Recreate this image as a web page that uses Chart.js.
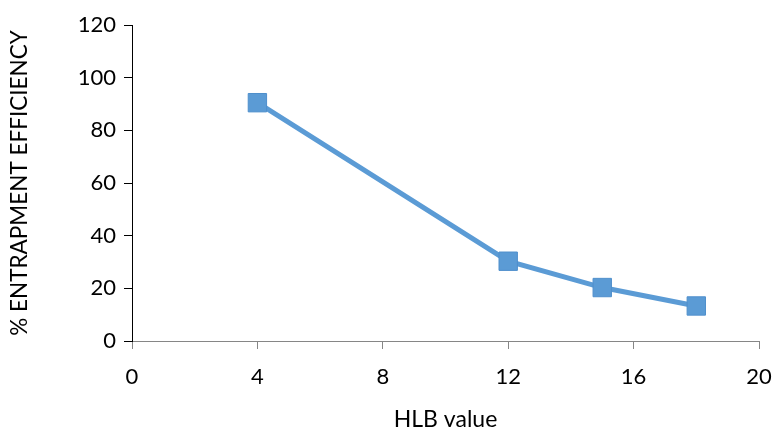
<!DOCTYPE html>
<html><head><meta charset="utf-8">
<script src="https://cdn.jsdelivr.net/npm/chart.js@4/dist/chart.umd.min.js"></script>
<style>html,body{margin:0;padding:0;background:#fff;}#wrap{width:773px;height:428px;}</style>
</head><body><div id="wrap"><canvas id="c" width="773" height="428"></canvas></div>
<script>
const hlbValues = [4, 12, 15, 18];
const entrapment = [90.5, 30.3, 20.3, 13.3];
const xTicks = [0, 4, 8, 12, 16, 20];
const yTicks = [0, 20, 40, 60, 80, 100, 120];

const ctx = document.getElementById('c').getContext('2d');
new Chart(ctx, {
  type: 'scatter',
  data: { datasets: [{
    data: hlbValues.map((x, i) => ({x: x, y: entrapment[i]})),
    showLine: true,
    borderColor: '#5B9BD5',
    borderWidth: 5,
    pointStyle: 'rect',
    pointRadius: 13,
    pointHoverRadius: 13,
    pointBackgroundColor: '#5B9BD5',
    pointBorderColor: '#4F8FCC',
    pointBorderWidth: 1
  }]},
  options: {
    responsive: false, animation: false,
    layout: { padding: { left: 0, right: 0, top: 25, bottom: 0 } },
    plugins: { legend: { display: false }, tooltip: { enabled: false } },
    scales: {
      x: {
        type: 'linear', min: 0, max: 20,
        afterBuildTicks: s => { s.ticks = xTicks.map(v => ({value: v})); },
        afterFit: s => { s.height = 87; s.paddingRight = 12; },
        grid: { drawOnChartArea: false, drawTicks: true, tickLength: 8, color: '#868686' },
        border: { color: '#868686', width: 1 },
        ticks: { color: '#000', font: { family: 'Lato', size: 22 }, padding: 15, maxRotation: 0 },
        title: { display: true, text: 'HLB value', color: '#000', font: { family: 'Lato', size: 23 }, padding: { top: 6, bottom: -5 } }
      },
      y: {
        min: 0, max: 120,
        afterBuildTicks: s => { s.ticks = yTicks.map(v => ({value: v})); },
        afterFit: s => { s.width = 132; },
        grid: { drawOnChartArea: false, drawTicks: true, tickLength: 8, color: '#000' },
        border: { color: '#000', width: 1 },
        ticks: { color: '#000', font: { family: 'Lato', size: 22 }, padding: 8 },
        title: { display: true, text: '% ENTRAPMENT EFFICIENCY', color: '#000', font: { family: 'Lato', size: 22.5 }, padding: { top: 6, bottom: 14 } }
      }
    }
  }
});
</script></body></html>
